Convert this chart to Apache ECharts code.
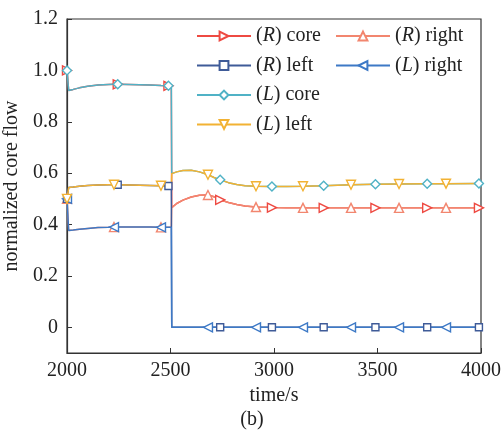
<!DOCTYPE html>
<html>
<head>
<meta charset="utf-8">
<script src="https://cdn.jsdelivr.net/npm/echarts@6/dist/echarts.min.js"></script>
<style>
  html, body { margin: 0; padding: 0; background: #fff; }
  #chart { width: 504px; height: 430px; }
</style>
</head>
<body>
<div id="chart"></div>
<script>
// Sample times (s)
const time = [2000, 2008, 2030, 2060, 2100, 2150, 2200, 2227, 2245, 2300, 2350, 2400, 2454, 2490, 2504,
  2506, 2530, 2560, 2600, 2640, 2681, 2710, 2740, 2780, 2820, 2860, 2913, 2990, 3060, 3140, 3240,
  3372, 3490, 3604, 3740, 3831, 3990, 4000];

// Normalized core flow per channel
const rCore = [1.0, 0.922, 0.926, 0.932, 0.938, 0.943, 0.945, 0.946, 0.946, 0.945, 0.944, 0.943, 0.941, 0.940, 0.940,
  0.466, 0.482, 0.495, 0.507, 0.514, 0.515, 0.508, 0.496, 0.486, 0.478, 0.472, 0.468, 0.466, 0.465, 0.465, 0.465,
  0.465, 0.465, 0.465, 0.465, 0.465, 0.465, 0.465];
const rRight = [0.5, 0.377, 0.379, 0.382, 0.385, 0.388, 0.389, 0.390, 0.390, 0.390, 0.390, 0.390, 0.389, 0.389, 0.389,
  0.466, 0.482, 0.495, 0.507, 0.514, 0.515, 0.508, 0.496, 0.486, 0.478, 0.472, 0.468, 0.466, 0.465, 0.465, 0.465,
  0.465, 0.465, 0.465, 0.465, 0.465, 0.465, 0.465];
const rLeft = [0.5, 0.544, 0.546, 0.549, 0.552, 0.554, 0.555, 0.555, 0.555, 0.554, 0.553, 0.552, 0.551, 0.550, 0.550,
  0, 0, 0, 0, 0, 0, 0, 0, 0, 0, 0, 0, 0, 0, 0, 0,
  0, 0, 0, 0, 0, 0, 0];
const lRight = [0.5, 0.377, 0.379, 0.382, 0.385, 0.388, 0.389, 0.390, 0.390, 0.390, 0.390, 0.390, 0.389, 0.389, 0.389,
  0, 0, 0, 0, 0, 0, 0, 0, 0, 0, 0, 0, 0, 0, 0, 0,
  0, 0, 0, 0, 0, 0, 0];
const lCore = [1.0, 0.922, 0.926, 0.932, 0.938, 0.943, 0.945, 0.946, 0.946, 0.945, 0.944, 0.943, 0.941, 0.940, 0.940,
  0.598, 0.605, 0.610, 0.611, 0.605, 0.594, 0.583, 0.574, 0.563, 0.556, 0.551, 0.549, 0.548, 0.548, 0.549, 0.551,
  0.555, 0.557, 0.558, 0.559, 0.559, 0.560, 0.560];
const lLeft = [0.5, 0.544, 0.546, 0.549, 0.552, 0.554, 0.555, 0.555, 0.555, 0.554, 0.553, 0.552, 0.551, 0.550, 0.550,
  0.598, 0.605, 0.610, 0.611, 0.605, 0.594, 0.583, 0.574, 0.563, 0.556, 0.551, 0.549, 0.548, 0.548, 0.549, 0.551,
  0.555, 0.557, 0.558, 0.559, 0.559, 0.560, 0.560];

// Times carrying a marker
const marksA = [2000, 2245, 2490, 2740, 2990, 3240, 3490, 3740, 3990];
const marksB = [2000, 2227, 2454, 2681, 2913, 3140, 3372, 3604, 3831];

// Tick labels
const xTicks = [2000, 2500, 3000, 3500, 4000];
const yTicks = [0, 0.2, 0.4, 0.6, 0.8, 1.0, 1.2];

const FONT = 'Liberation Serif';

function seriesOf(name, values, marks, color, symbol, rotate, size) {
  return {
    name: name,
    type: 'line',
    color: color,
    symbol: symbol,
    symbolSize: size,
    symbolRotate: rotate,
    showAllSymbol: true,
    lineStyle: { color: color, width: 1.5 },
    itemStyle: { color: '#fff', borderColor: color, borderWidth: 1.4 },
    emphasis: { disabled: true },
    data: time.map((t, i) => marks.indexOf(t) >= 0
      ? { value: [t, values[i]] }
      : { value: [t, values[i]], symbol: 'none' })
  };
}

const series = [
  seriesOf('(R) core', rCore, marksA, '#ee4a42', 'triangle', -90, 9),
  seriesOf('(R) right', rRight, marksB, '#f2866f', 'triangle', 0, 9),
  seriesOf('(R) left', rLeft, marksA, '#3f5b98', 'rect', 0, 7),
  seriesOf('(L) right', lRight, marksB, '#3d79c6', 'triangle', 90, 9),
  seriesOf('(L) core', lCore, marksA, '#50b2c6', 'diamond', 0, 9),
  seriesOf('(L) left', lLeft, marksB, '#f2b233', 'triangle', 180, 9)
];

const legendText = {
  fontFamily: FONT, fontSize: 20, color: '#222',
  rich: { i: { fontFamily: FONT, fontSize: 20, fontStyle: 'italic', color: '#222' } }
};
const legendFmt = n => n.replace(/\((R|L)\)/, '({i|$1})');

const chart = echarts.init(document.getElementById('chart'), null, { renderer: 'canvas' });
chart.setOption({
  animation: false,
  backgroundColor: '#fff',
  grid: {
    left: 67, right: 23, top: 19, bottom: 77, containLabel: false, outerBoundsMode: 'none',
    show: true, borderColor: '#333', borderWidth: 1.2, backgroundColor: 'transparent'
  },
  legend: [
    {
      data: ['(R) core', '(R) left', '(L) core', '(L) left'],
      orient: 'vertical', left: 191, top: 21, itemWidth: 54, itemHeight: 11, itemGap: 9.5,
      textStyle: legendText, formatter: legendFmt, selectedMode: false
    },
    {
      data: ['(R) right', '(L) right'],
      orient: 'vertical', left: 330, top: 21, itemWidth: 54, itemHeight: 11, itemGap: 9.5,
      textStyle: legendText, formatter: legendFmt, selectedMode: false
    }
  ],
  xAxis: {
    type: 'value', min: xTicks[0], max: xTicks[xTicks.length - 1], interval: 500,
    name: 'time/s', nameLocation: 'middle', nameGap: 32,
    nameTextStyle: { fontFamily: FONT, fontSize: 20, color: '#222' },
    axisLine: { onZero: false, lineStyle: { color: '#333', width: 1.2 } },
    axisTick: { inside: true, length: 5, lineStyle: { color: '#333' } },
    axisLabel: { fontFamily: FONT, fontSize: 20, color: '#222', margin: 8, formatter: v => String(v) },
    splitLine: { show: false }
  },
  yAxis: {
    type: 'value', min: -0.1, max: 1.2,
    name: 'normalized core flow', nameLocation: 'middle', nameGap: 39,
    nameTextStyle: { fontFamily: FONT, fontSize: 20, color: '#222' },
    axisLine: { show: true, onZero: false, lineStyle: { color: '#333', width: 1.2 } },
    axisTick: { show: true, inside: true, length: 5, customValues: yTicks, lineStyle: { color: '#333' } },
    axisLabel: {
      fontFamily: FONT, fontSize: 20, color: '#222', margin: 9, customValues: yTicks,
      formatter: v => (v === 0 ? '0' : v.toFixed(1))
    },
    splitLine: { show: false }
  },
  graphic: [{
    type: 'text', left: 'center', top: 410,
    style: { text: '(b)', font: '20px "Liberation Serif"', fill: '#222' }
  }],
  series: series
});
</script>
</body>
</html>
